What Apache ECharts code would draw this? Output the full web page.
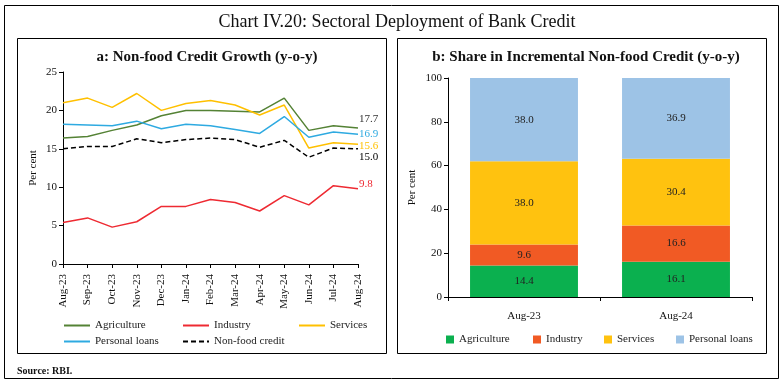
<!DOCTYPE html>
<html><head><meta charset="utf-8">
<script src="https://cdn.jsdelivr.net/npm/echarts@6/dist/echarts.min.js"></script>
<style>html,body{margin:0;padding:0;background:#fff}#c{width:784px;height:385px}</style>
</head><body><div id="c"></div>
<script>
const months = ['Aug-23','Sep-23','Oct-23','Nov-23','Dec-23','Jan-24','Feb-24','Mar-24','Apr-24','May-24','Jun-24','Jul-24','Aug-24'];
const agriculture = [16.4,16.6,17.4,18.1,19.3,20.0,20.0,19.9,19.8,21.6,17.4,18.0,17.7];
const industry = [5.4,6.0,4.8,5.5,7.5,7.5,8.4,8.0,6.9,8.9,7.7,10.2,9.8];
const services = [21.0,21.6,20.4,22.2,20.0,20.9,21.3,20.7,19.4,20.7,15.1,15.8,15.6];
const personalLoans = [18.2,18.1,18.0,18.6,17.6,18.2,18.0,17.5,17.0,19.2,16.5,17.2,16.9];
const nonFood = [15.0,15.3,15.3,16.3,15.8,16.2,16.4,16.2,15.2,16.1,13.9,15.1,15.0];

const periods = ['Aug-23','Aug-24'];
const shareAgriculture = [14.4,16.1];
const shareIndustry = [9.6,16.6];
const shareServices = [38.0,30.4];
const sharePersonal = [38.0,36.9];

const FONT = 'Liberation Serif';
const chart = echarts.init(document.getElementById('c'));

function lineSeries(name, data, color, labelColor, offY, dashed){
  return {
    name, type:'line', data, xAxisIndex:0, yAxisIndex:0, symbol:'none', smooth:false,
    lineStyle:{color, width:1.5, type: dashed ? [5,3] : 'solid'},
    itemStyle:{color},
    endLabel:{show:true, formatter:p=>p.value.toFixed(1), color:labelColor, fontFamily:FONT, fontSize:11, distance:1, offset:[0,offY]},
    emphasis:{disabled:true}
  };
}
function barSeries(name, data, color){
  return {
    name, type:'bar', stack:'s', data, xAxisIndex:1, yAxisIndex:1, barWidth:'71%',
    itemStyle:{color},
    label:{show:true, position:'inside', formatter:p=>p.value.toFixed(1), color:'#222', fontFamily:FONT, fontSize:11},
    emphasis:{disabled:true}
  };
}
const legText = {fontFamily:FONT, fontSize:11, color:'#222'};
function lineLegend(name, left, top){
  return {data:[name], left, top, itemWidth:26, itemHeight:3, itemGap:0, textStyle:legText, padding:0,
          itemStyle:{opacity:0}};
}
function barLegend(name, left, top){
  return {data:[name], left, top, icon:'rect', itemWidth:8, itemHeight:8, itemGap:0, textStyle:legText, padding:0};
}
const axisLab = {color:'#111', fontFamily:FONT, fontSize:11};
const axisLine = {show:true, lineStyle:{color:'#000', width:1}};

chart.setOption({
  animation:false,
  textStyle:{fontFamily:FONT},
  title:[
    {text:'Chart IV.20: Sectoral Deployment of Bank Credit', left:392, top:8, textAlign:'center', textStyle:{fontFamily:FONT, fontSize:18, fontWeight:'normal', color:'#111'}},
    {text:'a: Non-food Credit Growth (y-o-y)', left:202, top:45, textAlign:'center', textStyle:{fontFamily:FONT, fontSize:15, fontWeight:'bold', color:'#111'}},
    {text:'b: Share in Incremental Non-food Credit (y-o-y)', left:581, top:45, textAlign:'center', textStyle:{fontFamily:FONT, fontSize:15, fontWeight:'bold', color:'#111'}},
    {text:'Source: RBI.', left:12, top:361, textStyle:{fontFamily:FONT, fontSize:10, fontWeight:'bold', color:'#111'}}
  ],
  graphic:[
    {type:'rect', shape:{x:4.5, y:5.5, width:774, height:373}, style:{fill:'none', stroke:'#000', lineWidth:1}, silent:true},
    {type:'rect', shape:{x:17.5, y:38.5, width:369, height:315}, style:{fill:'none', stroke:'#000', lineWidth:1}, silent:true},
    {type:'rect', shape:{x:397.5, y:38.5, width:369, height:315}, style:{fill:'none', stroke:'#000', lineWidth:1}, silent:true}
  ],
  legend:[
    lineLegend('Agriculture',63,320),
    lineLegend('Industry',182,320),
    lineLegend('Services',298,320),
    lineLegend('Personal loans',63,336),
    lineLegend('Non-food credit',182,336),
    barLegend('Agriculture ',446,334),
    barLegend('Industry ',533,334),
    barLegend('Services ',604,334),
    barLegend('Personal loans ',676,334)
  ],
  grid:[
    {left:63, right:426, top:72, bottom:121},
    {left:448, right:32, top:78, bottom:88}
  ],
  xAxis:[
    {type:'category', gridIndex:0, data:months, boundaryGap:false,
     axisLine, axisTick:{show:true, length:4, lineStyle:{color:'#000'}},
     axisLabel:{...axisLab, rotate:90, interval:0, margin:10}},
    {type:'category', gridIndex:1, data:periods, boundaryGap:true,
     axisLine, axisTick:{show:true, length:4, lineStyle:{color:'#000'}},
     axisLabel:{...axisLab, margin:14}}
  ],
  yAxis:[
    {type:'value', gridIndex:0, min:0, max:25, interval:5, name:'Per cent', nameLocation:'middle', nameGap:24, nameRotate:90,
     nameTextStyle:{fontFamily:FONT, fontSize:11, color:'#111'},
     axisLine, axisTick:{show:true, length:4, lineStyle:{color:'#000'}}, splitLine:{show:false}, axisLabel:{...axisLab, margin:6}},
    {type:'value', gridIndex:1, min:0, max:100, interval:20, name:'Per cent', nameLocation:'middle', nameGap:30, nameRotate:90,
     nameTextStyle:{fontFamily:FONT, fontSize:11, color:'#111'},
     axisLine, axisTick:{show:true, length:4, lineStyle:{color:'#000'}}, splitLine:{show:false}, axisLabel:{...axisLab, margin:6}}
  ],
  series:[
    lineSeries('Agriculture', agriculture, '#548235', '#333', -9, false),
    lineSeries('Industry', industry, '#ee2a32', '#ee2a32', -5, false),
    lineSeries('Services', services, '#ffc000', '#ffc000', 2, false),
    lineSeries('Personal loans', personalLoans, '#2eaae1', '#2eaae1', 0, false),
    lineSeries('Non-food credit', nonFood, '#000', '#000', 8, true),
    barSeries('Agriculture ', shareAgriculture, '#0bb04f'),
    barSeries('Industry ', shareIndustry, '#f15a24'),
    barSeries('Services ', shareServices, '#ffc20f'),
    barSeries('Personal loans ', sharePersonal, '#9dc3e6')
  ]
});
</script></body></html>
